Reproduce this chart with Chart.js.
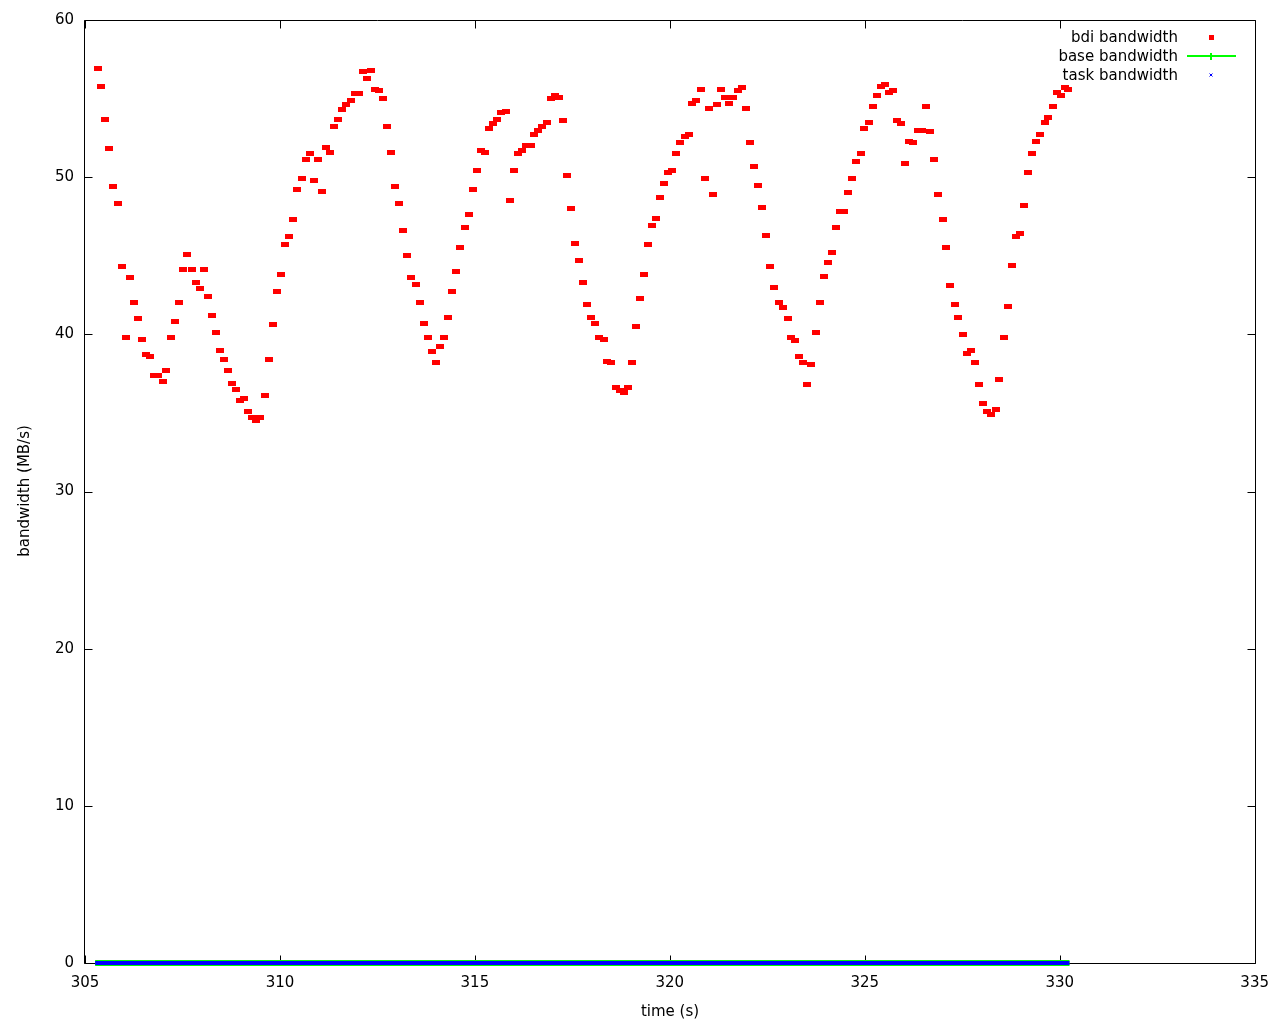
<!DOCTYPE html>
<html>
<head>
<meta charset="utf-8">
<script src="https://cdn.jsdelivr.net/npm/chart.js@4.4.1/dist/chart.umd.min.js"></script>
<style>
  html, body { margin: 0; padding: 0; background: #fff; }
</style>
</head>
<body>
<canvas id="bwChart" width="1280" height="1024"></canvas>
<script>
// bdi bandwidth samples (time in s, MB/s)
const times = [
  305.33, 305.42, 305.52, 305.62, 305.73, 305.85, 305.95, 306.05, 306.16, 306.26,
  306.37, 306.47, 306.57, 306.67, 306.78, 306.88, 307.00, 307.08, 307.21, 307.32,
  307.42, 307.52, 307.62, 307.74, 307.85, 307.95, 308.06, 308.16, 308.26, 308.37,
  308.47, 308.57, 308.67, 308.78, 308.88, 308.98, 309.08, 309.19, 309.29, 309.39,
  309.49, 309.62, 309.72, 309.83, 309.92, 310.03, 310.14, 310.24, 310.34, 310.44,
  310.56, 310.67, 310.77, 310.88, 310.98, 311.08, 311.19, 311.29, 311.39, 311.49,
  311.60, 311.70, 311.81, 311.92, 312.03, 312.14, 312.24, 312.34, 312.44, 312.55,
  312.65, 312.75, 312.85, 312.96, 313.06, 313.16, 313.26, 313.37, 313.48, 313.59,
  313.69, 313.79, 313.90, 314.00, 314.11, 314.21, 314.32, 314.42, 314.52, 314.62,
  314.75, 314.85, 314.96, 315.06, 315.16, 315.26, 315.37, 315.47, 315.57, 315.68,
  315.79, 315.90, 316.01, 316.11, 316.21, 316.32, 316.43, 316.52, 316.62, 316.73,
  316.84, 316.94, 317.05, 317.16, 317.26, 317.36, 317.47, 317.57, 317.67, 317.78,
  317.88, 317.98, 318.08, 318.19, 318.30, 318.39, 318.49, 318.62, 318.72, 318.82,
  318.93, 319.03, 319.14, 319.24, 319.34, 319.44, 319.55, 319.65, 319.75, 319.85,
  319.96, 320.06, 320.17, 320.27, 320.38, 320.48, 320.58, 320.68, 320.80, 320.90,
  321.01, 321.11, 321.21, 321.32, 321.42, 321.53, 321.63, 321.74, 321.85, 321.96,
  322.06, 322.16, 322.26, 322.37, 322.47, 322.58, 322.68, 322.79, 322.90, 323.02,
  323.10, 323.21, 323.32, 323.42, 323.52, 323.63, 323.74, 323.84, 323.96, 324.06,
  324.16, 324.26, 324.37, 324.47, 324.57, 324.67, 324.78, 324.89, 324.99, 325.11,
  325.21, 325.32, 325.42, 325.52, 325.62, 325.73, 325.83, 325.93, 326.03, 326.14,
  326.24, 326.36, 326.47, 326.57, 326.67, 326.78, 326.88, 327.00, 327.08, 327.19,
  327.31, 327.40, 327.52, 327.62, 327.73, 327.83, 327.93, 328.03, 328.14, 328.24,
  328.36, 328.44, 328.56, 328.67, 328.78, 328.88, 328.98, 329.08, 329.19, 329.29,
  329.39, 329.49, 329.61, 329.71, 329.82, 329.92, 330.03, 330.14, 330.21
];
const bdiBandwidth = [
  56.9, 55.8, 53.7, 51.8, 49.4, 48.3, 44.3, 39.8, 43.6, 42.0,
  41.0, 39.7, 38.7, 38.6, 37.4, 37.4, 37.0, 37.7, 39.8, 40.8,
  42.0, 44.1, 45.1, 44.1, 43.3, 42.9, 44.1, 42.4, 41.2, 40.1,
  39.0, 38.4, 37.7, 36.9, 36.5, 35.8, 35.9, 35.1, 34.7, 34.5,
  34.7, 36.1, 38.4, 40.6, 42.7, 43.8, 45.7, 46.2, 47.3, 49.2,
  49.9, 51.1, 51.5, 49.8, 51.1, 49.1, 51.9, 51.6, 53.2, 53.7,
  54.3, 54.6, 54.9, 55.3, 55.3, 56.7, 56.3, 56.8, 55.6, 55.5,
  55.0, 53.2, 51.6, 49.4, 48.3, 46.6, 45.0, 43.6, 43.2, 42.0,
  40.7, 39.8, 38.9, 38.2, 39.2, 39.8, 41.1, 42.7, 44.0, 45.5,
  46.8, 47.6, 49.2, 50.4, 51.7, 51.6, 53.1, 53.4, 53.7, 54.1,
  54.2, 48.5, 50.4, 51.5, 51.7, 52.0, 52.0, 52.7, 53.0, 53.2,
  53.5, 55.0, 55.2, 55.1, 53.6, 50.1, 48.0, 45.8, 44.7, 43.3,
  41.9, 41.1, 40.7, 39.8, 39.7, 38.3, 38.2, 36.6, 36.4, 36.3,
  36.6, 38.2, 40.5, 42.3, 43.8, 45.7, 46.9, 47.4, 48.7, 49.6,
  50.3, 50.4, 51.5, 52.2, 52.6, 52.7, 54.7, 54.9, 55.6, 49.9,
  54.4, 48.9, 54.6, 55.6, 55.1, 54.7, 55.1, 55.5, 55.7, 54.4,
  52.2, 50.7, 49.5, 48.1, 46.3, 44.3, 43.0, 42.0, 41.7, 41.0,
  39.8, 39.6, 38.6, 38.2, 36.8, 38.1, 40.1, 42.0, 43.7, 44.6,
  45.2, 46.8, 47.8, 47.8, 49.0, 49.9, 51.0, 51.5, 53.1, 53.5,
  54.5, 55.2, 55.8, 55.9, 55.4, 55.5, 53.6, 53.4, 50.9, 52.3,
  52.2, 53.0, 53.0, 54.5, 52.9, 51.1, 48.9, 47.3, 45.5, 43.1,
  41.9, 41.1, 40.0, 38.8, 39.0, 38.2, 36.8, 35.6, 35.1, 34.9,
  35.2, 37.1, 39.8, 41.8, 44.4, 46.2, 46.4, 48.2, 50.3, 51.5,
  52.3, 52.7, 53.5, 53.8, 54.5, 55.4, 55.2, 55.7, 55.6
];

// base and task bandwidth sit at zero for the whole run
const baseTimes = [305.26, 330.25];
const baseBandwidth = [0, 0];
const taskTimes = [305.26, 330.25];
const taskBandwidth = [0, 0];

const xTicks = [305, 310, 315, 320, 325, 330, 335];
const yTicks = [0, 10, 20, 30, 40, 50, 60];

const FONT = '"DejaVu Sans", sans-serif';
Chart.defaults.font.family = FONT;
Chart.defaults.font.size = 15;
Chart.defaults.color = '#000';

// red dash used for each bdi sample
const dash = document.createElement('canvas');
dash.width = 8;
dash.height = 5;
let dctx = dash.getContext('2d');
dctx.fillStyle = '#ff0000';
dctx.fillRect(0, 0, 8, 5);

function toPoints(xs, ys) {
  return xs.map((t, i) => ({ x: t, y: ys[i] }));
}

// gnuplot style frame: full border, inward ticks on all four sides
const frame = {
  id: 'frame',
  beforeDatasetsDraw(chart) {
    const { ctx, chartArea: a, scales: { x, y } } = chart;
    const L = Math.round(a.left) - 0.5, R = Math.round(a.right) + 0.5;
    const T = Math.round(a.top) + 0.5, B = Math.round(a.bottom) + 0.5;
    ctx.save();
    ctx.strokeStyle = '#000';
    ctx.lineWidth = 1;
    ctx.beginPath();
    ctx.rect(L, T, R - L, B - T);
    xTicks.forEach(v => {
      const px = Math.round(x.getPixelForValue(v)) + 0.5;
      ctx.moveTo(px, B); ctx.lineTo(px, B - 8);
      ctx.moveTo(px, T); ctx.lineTo(px, T + 8);
    });
    yTicks.forEach(v => {
      const py = Math.round(y.getPixelForValue(v)) + 0.5;
      ctx.moveTo(L, py); ctx.lineTo(L + 8, py);
      ctx.moveTo(R, py); ctx.lineTo(R - 8, py);
    });
    ctx.stroke();
    ctx.restore();
  },
  afterDraw(chart) {
    const ctx = chart.ctx;
    ctx.save();
    ctx.fillStyle = '#000';
    ctx.font = '15px ' + FONT;
    ctx.textBaseline = 'middle';

    // axis titles
    ctx.textAlign = 'center';
    ctx.fillText('time (s)', 670, 1012);
    ctx.save();
    ctx.translate(25, 491);
    ctx.rotate(-Math.PI / 2);
    ctx.fillText('bandwidth (MB/s)', 0, 0);
    ctx.restore();

    // key, top right
    ctx.textAlign = 'right';
    ctx.fillText('bdi bandwidth', 1178, 38);
    ctx.fillText('base bandwidth', 1178, 57);
    ctx.fillText('task bandwidth', 1178, 76);

    ctx.fillStyle = '#ff0000';
    ctx.fillRect(1209, 35, 5, 5);

    ctx.strokeStyle = '#00ff00';
    ctx.lineWidth = 2;
    ctx.beginPath();
    ctx.moveTo(1187, 56); ctx.lineTo(1236, 56);
    ctx.moveTo(1211, 53); ctx.lineTo(1211, 60);
    ctx.stroke();

    ctx.strokeStyle = '#0000ff';
    ctx.lineWidth = 1;
    ctx.beginPath();
    ctx.moveTo(1209.5, 73.5); ctx.lineTo(1212.5, 76.5);
    ctx.moveTo(1212.5, 73.5); ctx.lineTo(1209.5, 76.5);
    ctx.stroke();
    ctx.restore();
  }
};

new Chart(document.getElementById('bwChart'), {
  type: 'scatter',
  data: {
    datasets: [
      {
        label: 'bdi bandwidth',
        data: toPoints(times, bdiBandwidth),
        pointStyle: dash,
        pointRadius: 4,
        order: 3
      },
      {
        label: 'base bandwidth',
        type: 'line',
        data: toPoints(baseTimes, baseBandwidth),
        borderColor: '#00ff00',
        borderWidth: 6,
        pointRadius: 0,
        clip: false,
        order: 2
      },
      {
        label: 'task bandwidth',
        type: 'line',
        data: toPoints(taskTimes, taskBandwidth),
        borderColor: '#0000ff',
        borderWidth: 4,
        pointRadius: 0,
        clip: false,
        order: 1
      }
    ]
  },
  options: {
    responsive: false,
    animation: false,
    events: [],
    layout: { padding: { top: 20, right: 25, left: 0, bottom: 0 } },
    plugins: { legend: { display: false }, tooltip: { enabled: false } },
    scales: {
      x: {
        type: 'linear',
        min: 305,
        max: 335,
        grid: { display: false, drawTicks: false },
        border: { display: false },
        ticks: { padding: 11, maxRotation: 0 },
        afterBuildTicks: s => { s.ticks = xTicks.map(v => ({ value: v })); },
        afterFit: s => { s.height = 61; }
      },
      y: {
        min: 0,
        max: 60,
        grid: { display: false, drawTicks: false },
        border: { display: false },
        ticks: { padding: 11 },
        afterBuildTicks: s => { s.ticks = yTicks.map(v => ({ value: v })); },
        afterFit: s => { s.width = 85; }
      }
    }
  },
  plugins: [frame]
});
</script>
</body>
</html>
